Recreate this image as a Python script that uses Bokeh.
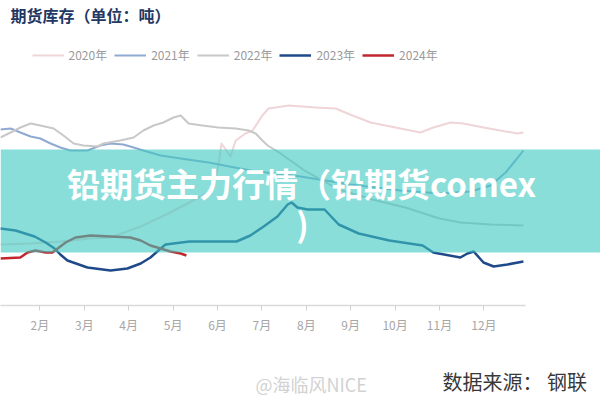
from bokeh.plotting import figure
from bokeh.models import Label, BoxAnnotation, FixedTicker, Range1d
from bokeh.layouts import column
from bokeh.embed import file_html
from bokeh.resources import INLINE

# ---- data (x = month position, 1.0 = start of Jan; y = tons) ----
months = list(range(1, 13))
month_labels = [f"{m}月" for m in months]
years = ["2020年", "2021年", "2022年", "2023年", "2024年"]

x2020 = [1.11, 1.79, 2.46, 3.14, 3.59, 4.27, 4.94, 5.62, 5.91, 6.02, 6.09, 6.20, 6.29, 6.41,
         6.63, 6.79, 7.01, 7.15, 7.31, 7.60, 8.21, 8.66, 9.04, 9.45, 10.12, 10.57, 10.86,
         11.25, 11.54, 11.99, 12.37, 12.76, 12.89]
y2020 = [12200, 12400, 12800, 13400, 13600, 15800, 18600, 21800, 23400, 28000, 32400, 31000,
         29800, 33000, 34400, 35000, 38000, 39400, 39600, 40000, 39600, 39400, 38000, 36600,
         35400, 34600, 35600, 36600, 36400, 35600, 35000, 34400, 34600]

x2021 = [1.11, 1.34, 1.56, 1.79, 2.01, 2.24, 2.46, 2.69, 3.07, 3.36, 3.59, 3.88, 4.11, 4.33,
         4.72, 5.17, 5.80, 6.74, 7.87, 9.00, 10.12, 11.02, 11.70, 12.15, 12.49, 12.71, 12.89]
y2021 = [35200, 35400, 34600, 33800, 33400, 32400, 31600, 31000, 31000, 32000, 32400, 32200,
         31600, 31000, 30000, 29400, 28600, 27000, 25800, 24200, 23000, 22400, 22800, 24000,
         26600, 29000, 31000]

x2022 = [1.11, 1.34, 1.56, 1.79, 2.01, 2.31, 2.53, 2.76, 2.98, 3.30, 3.43, 3.81, 4.11, 4.33,
         4.56, 4.78, 5.01, 5.17, 5.35, 5.66, 6.02, 6.41, 6.70, 6.86, 7.01, 7.13, 7.24, 7.42,
         7.96, 8.73, 9.49, 10.23, 11.00, 11.47, 12.15, 12.89]
y2022 = [33600, 34600, 35600, 36400, 36000, 35400, 34000, 32400, 32000, 31800, 32400, 33000,
         33600, 35000, 36000, 36600, 37600, 38000, 36400, 36000, 35600, 35400, 35000, 34400,
         33000, 32000, 31400, 30400, 27000, 23200, 21200, 19600, 17400, 16600, 16200, 16000]

x2023 = [1.11, 1.45, 1.88, 2.13, 2.33, 2.46, 2.62, 3.07, 3.59, 3.97, 4.27, 4.49, 4.72, 4.83,
         5.37, 6.43, 6.74, 7.04, 7.35, 7.58, 7.67, 7.80, 8.03, 8.41, 8.73, 9.18, 9.87, 10.62,
         10.86, 11.47, 11.63, 11.77, 11.99, 12.22, 12.53, 12.89]
y2023 = [15400, 15000, 13800, 12600, 11400, 10200, 9000, 7600, 7000, 7400, 8400, 9600, 11400,
         12200, 12800, 12800, 14000, 15800, 17800, 20200, 20600, 19600, 19200, 19200, 16200,
         14400, 13000, 12000, 10600, 9600, 10400, 10800, 8600, 7800, 8200, 8800]

x2024 = [1.11, 1.56, 1.72, 1.90, 2.13, 2.28, 2.40, 2.58, 2.80, 3.14, 3.59, 4.04, 4.27, 4.49,
         4.72, 4.94, 5.17, 5.30]
y2024 = [9400, 9600, 10600, 11000, 10600, 10600, 11400, 12600, 13600, 14000, 13800, 13600,
         13000, 12000, 11400, 10800, 10400, 10000]

colors = ["#efd5d8", "#8eaad2", "#c8c8c8", "#1f4a89", "#c1272d"]
widths = [2, 2, 2, 2.5, 2.5]

CJK = "Noto Sans CJK SC"

p = figure(width=600, height=345, output_backend="svg", toolbar_location=None,
           x_range=Range1d(1.1126, 14.626), y_range=Range1d(0, 61000),
           y_axis_location=None, min_border_left=0, min_border_right=0,
           min_border_top=0, min_border_bottom=40)
p.outline_line_color = None
p.background_fill_color = "white"
p.border_fill_color = "white"
p.xgrid.visible = False
p.ygrid.visible = False

series = [(x2020, y2020), (x2021, y2021), (x2022, y2022), (x2023, y2023), (x2024, y2024)]
for (xs, ys), c, w, lab in zip(series, colors, widths, years):
    p.line(xs, ys, line_color=c, line_width=w, line_join="round", legend_label=lab)

ax = p.xaxis[0]
ax.ticker = FixedTicker(ticks=months)
ax.major_label_overrides = {m: l for m, l in zip(months, month_labels)}
ax.bounds = (1.1126, 12.937)
ax.axis_line_color = "#d9d9d9"
ax.axis_line_width = 1.5
ax.major_tick_line_color = "#d0d0d0"
ax.major_tick_out = 5
ax.major_tick_in = 0
ax.minor_tick_line_color = None
ax.major_label_standoff = 5
ax.major_label_text_font = CJK
ax.major_label_text_font_size = "12px"
ax.major_label_text_color = "#a6a6a6"

lg = p.legend[0]
lg.orientation = "horizontal"
lg.location = (31.5, 242)
lg.glyph_width = 32
lg.glyph_height = 12
lg.label_height = 12
lg.label_standoff = 5
lg.spacing = 7
lg.padding = 0
lg.margin = 0
lg.label_text_font = CJK
lg.label_text_font_size = "12px"
lg.label_text_color = "#9a9a9a"
lg.background_fill_alpha = 0
lg.border_line_alpha = 0

p.add_layout(Label(x=10, y=291, x_units="screen", y_units="screen",
                   text="期货库存（单位：吨）", text_font=CJK, text_font_size="16px",
                   text_font_style="bold", text_color="#1f3864", text_baseline="middle"))

p.add_layout(BoxAnnotation(bottom=10600, top=31200, fill_color="#3cc8c0", fill_alpha=0.6,
                           line_alpha=0))

p.add_layout(Label(x=301, y=123, x_units="screen", y_units="screen",
                   text="铅期货主力行情（铅期货comex", text_font=CJK, text_font_size="33px",
                   text_font_style="bold", text_color="white", text_align="center",
                   text_baseline="middle"))
p.add_layout(Label(x=302, y=83, x_units="screen", y_units="screen",
                   text=")", text_font=CJK, text_font_size="33px",
                   text_font_style="bold", text_color="white", text_align="center",
                   text_baseline="middle"))

# bottom strip with watermark and source note
p2 = figure(width=600, height=55, output_backend="svg", toolbar_location=None,
            x_range=Range1d(0, 600), y_range=Range1d(0, 55),
            x_axis_location=None, y_axis_location=None,
            min_border_left=0, min_border_right=0, min_border_top=0, min_border_bottom=0)
p2.outline_line_color = None
p2.xgrid.visible = False
p2.ygrid.visible = False
p2.add_layout(Label(x=255, y=17, x_units="screen", y_units="screen",
                    text="@海临风NICE", text_font=CJK, text_font_size="18px",
                    text_color="#d2d2d2", text_baseline="middle"))
p2.add_layout(Label(x=442, y=19, x_units="screen", y_units="screen",
                    text="数据来源： 钢联", text_font=CJK, text_font_size="20px",
                    text_color="#383838", text_baseline="middle"))

layout = column(p, p2, spacing=0)
open("out.html", "w").write(file_html(layout, INLINE))
